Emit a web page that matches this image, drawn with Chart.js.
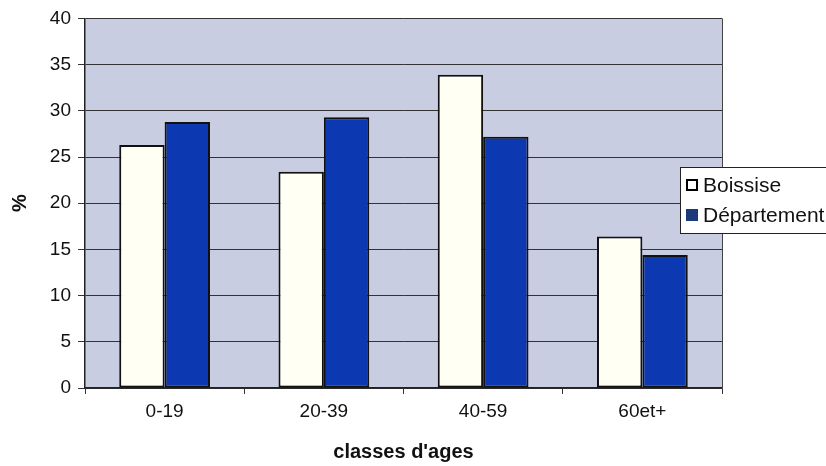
<!DOCTYPE html>
<html>
<head>
<meta charset="utf-8">
<script src="https://cdn.jsdelivr.net/npm/chart.js@4.4.0/dist/chart.umd.min.js"></script>
<style>
  html, body { margin: 0; padding: 0; background: #fff; }
  #wrap { width: 826px; height: 466px; }
</style>
</head>
<body>
<div id="wrap"><canvas id="myChart" width="826" height="466"></canvas></div>
<script>
// age classes and the share (%) of each one
const classes = ["0-19", "20-39", "40-59", "60et+"];
const boissise = [26.3, 23.4, 33.9, 16.4];
const departement = [28.8, 29.3, 27.2, 14.4];
const yTicks = [0, 5, 10, 15, 20, 25, 30, 35, 40];

const fontFamily = "'Liberation Sans', Arial, sans-serif";
const tickSize = 19;
const titleSize = 20;
const legendSize = 21;

// grey-blue plot background like the old spreadsheet charts
const plotBg = {
  id: "plotBg",
  beforeDraw(chart) {
    const { ctx, chartArea: a } = chart;
    ctx.save();
    ctx.fillStyle = "#c9cde2";
    ctx.fillRect(a.left, a.top, a.right - a.left, a.bottom - a.top);
    ctx.restore();
  },
  afterDatasetsDraw(chart) {
    // frame on the right side of the plot
    const { ctx, chartArea: a } = chart;
    ctx.save();
    ctx.strokeStyle = "#444";
    ctx.lineWidth = 1;
    ctx.beginPath();
    ctx.moveTo(a.right + 0.5, a.top);
    ctx.lineTo(a.right + 0.5, a.bottom);
    ctx.stroke();
    ctx.restore();
  }
};

// boxed legend sitting over the right edge of the plot
const boxLegend = {
  id: "boxLegend",
  afterDraw(chart) {
    const ctx = chart.ctx;
    const x = 680, y = 167, w = 150, h = 66;
    ctx.save();
    ctx.fillStyle = "#fff";
    ctx.fillRect(x, y, w, h);
    ctx.strokeStyle = "#222";
    ctx.lineWidth = 1;
    ctx.strokeRect(x + 0.5, y + 0.5, w, h);
    ctx.font = legendSize + "px " + fontFamily;
    ctx.textBaseline = "middle";
    chart.data.datasets.forEach((ds, i) => {
      const cy = y + 18 + i * 30;
      ctx.fillStyle = i === 0 ? "#fff" : "#1b3a7a";
      ctx.fillRect(x + 6, cy - 6, 12, 12);
      if (i === 0) {
        ctx.strokeStyle = "#000";
        ctx.lineWidth = 2;
        ctx.strokeRect(x + 7, cy - 5, 10, 10);
      }
      ctx.fillStyle = "#111";
      ctx.fillText(ds.label, x + 23, cy + 1);
    });
    ctx.restore();
  }
};

new Chart("myChart", {
  type: "bar",
  data: {
    labels: classes,
    datasets: [
      {
        label: "Boissise",
        data: boissise,
        backgroundColor: "#fffff3",
        borderColor: "#111",
        borderWidth: 2,
        borderSkipped: false
      },
      {
        label: "Département",
        data: departement,
        backgroundColor: "#0c38b2",
        borderColor: "#111",
        borderWidth: 2,
        borderSkipped: false
      }
    ]
  },
  plugins: [plotBg, boxLegend],
  options: {
    responsive: false,
    animation: false,
    layout: { padding: { top: 17, right: 104, left: 0, bottom: 0 } },
    datasets: { bar: { categoryPercentage: 0.57, barPercentage: 1.0 } },
    plugins: {
      legend: { display: false },
      tooltip: { enabled: false }
    },
    scales: {
      x: {
        offset: true,
        grid: {
          offset: true,
          drawOnChartArea: false,
          drawTicks: true,
          tickLength: 6,
          color: "#333"
        },
        border: { color: "#222", width: 1.5 },
        ticks: { color: "#111", font: { size: tickSize, family: fontFamily }, padding: 6 },
        title: {
          display: true,
          text: "classes d'ages",
          color: "#111",
          font: { size: titleSize, weight: "bold", family: fontFamily },
          padding: { top: 0, bottom: 2 }
        },
        afterFit(scale) { scale.height = 78; }
      },
      y: {
        min: 0,
        max: 40,
        afterBuildTicks(scale) { scale.ticks = yTicks.map(v => ({ value: v })); },
        grid: { color: "#333", lineWidth: 1, tickLength: 7 },
        border: { color: "#222", width: 1.5 },
        ticks: { color: "#111", font: { size: tickSize, family: fontFamily }, padding: 7 },
        title: {
          display: true,
          text: "%",
          color: "#111",
          font: { size: titleSize, weight: "bold", family: fontFamily },
          padding: { top: 8, bottom: 0 }
        },
        afterFit(scale) { scale.width = 85; }
      }
    }
  }
});
</script>
</body>
</html>
